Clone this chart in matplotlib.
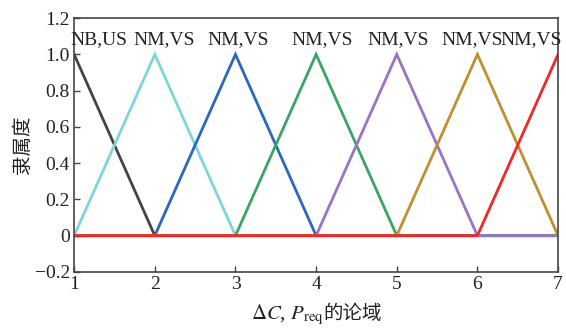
import matplotlib
matplotlib.use("Agg")
import matplotlib.pyplot as plt
from matplotlib.ticker import FuncFormatter
from matplotlib.offsetbox import TextArea, HPacker, AnchoredOffsetbox

plt.rcParams['font.family'] = ['Liberation Serif', 'Noto Sans CJK SC']
plt.rcParams['mathtext.fontset'] = 'stix'

x = [1, 2, 3, 4, 5, 6, 7]
mf_values = [
    [1, 0, 0, 0, 0, 0, 0],
    [0, 1, 0, 0, 0, 0, 0],
    [0, 0, 1, 0, 0, 0, 0],
    [0, 0, 0, 1, 0, 0, 0],
    [0, 0, 0, 0, 1, 0, 0],
    [0, 0, 0, 0, 0, 1, 0],
    [0, 0, 0, 0, 0, 0, 1],
]
colors = ['#444444', '#80d4dc', '#2a68c0', '#3aa468', '#9a74c4', '#c09030', '#f02828']

label_text = ['NB,US', 'NM,VS', 'NM,VS', 'NM,VS', 'NM,VS', 'NM,VS', 'NM,VS']
label_x = [1.31, 2.11, 3.03, 4.07, 5.02, 5.93, 6.67]
label_y = 1.08

yticks = [-0.2, 0, 0.2, 0.4, 0.6, 0.8, 1.0, 1.2]

fig = plt.figure(figsize=(5.66, 3.30), dpi=100)
ax = fig.add_axes([0.131, 0.176, 0.855, 0.769])

for vals, c in zip(mf_values, colors):
    ax.plot(x, vals, color=c, lw=2.0, solid_joinstyle='miter')

for t, lx in zip(label_text, label_x):
    ax.text(lx, label_y, t, ha='center', va='center', fontsize=14, color='#222222')

ax.set_xlim(1, 7)
ax.set_ylim(-0.2, 1.2)
ax.set_xticks(x)
ax.set_yticks(yticks)
ax.yaxis.set_major_formatter(FuncFormatter(lambda v, p: '0' if abs(v) < 1e-9 else ('\u2212%.1f' % -v if v < 0 else '%.1f' % v)))
ax.tick_params(direction='in', labelsize=14, length=4, width=1, color='#444444', labelcolor='#222222', pad=3)
for s in ax.spines.values():
    s.set_color('#444444')
    s.set_linewidth(1.2)

ax.set_ylabel('隶属度', fontsize=14, labelpad=2, color='#222222')

part1 = TextArea(r'$\Delta C$, $P_{\rm req}$', textprops=dict(fontsize=15, color='#222222'))
part2 = TextArea('的论域', textprops=dict(fontsize=14, color='#222222',
                                           family=['Noto Sans CJK SC']))
box = HPacker(children=[part1, part2], align='baseline', pad=0, sep=0)
anch = AnchoredOffsetbox(loc='upper center', child=box, frameon=False,
                         bbox_to_anchor=(0.5, -0.1), bbox_transform=ax.transAxes, borderpad=0)
ax.add_artist(anch)

fig.savefig('out.png', dpi=100)
